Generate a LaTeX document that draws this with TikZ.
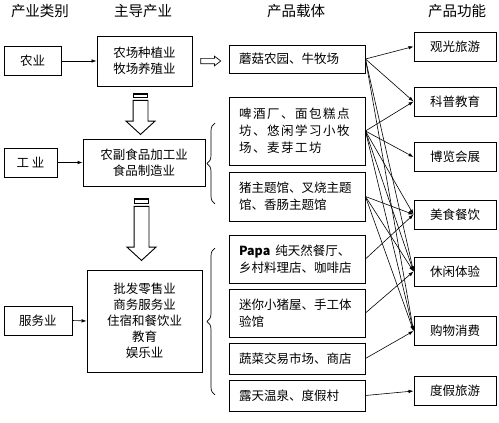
\documentclass[tikz,border=0pt]{standalone}
\usepackage{fontspec}
\setmainfont{Noto Sans CJK SC}
\usetikzlibrary{arrows.meta, shapes.arrows, decorations.pathreplacing}

\begin{document}
\begin{tikzpicture}[x=1pt, y=-1pt,
    header/.style={font=\fontsize{14.5}{17}\selectfont},
    catbox/.style={rectangle, draw, line width=0.9pt, minimum height=29pt, inner sep=0pt, font=\fontsize{12.5}{16}\selectfont},
    leadbox/.style={rectangle, draw, line width=0.9pt, inner sep=0pt, align=center, font=\fontsize{12.5}{16}\selectfont},
    carrier/.style={rectangle, draw, line width=0.9pt, minimum width=136pt, text width=116pt, inner xsep=10pt, inner ysep=0pt, align=left, font=\fontsize{12.5}{17}\selectfont},
    func/.style={rectangle, draw, line width=0.9pt, minimum width=82pt, minimum height=29pt, inner sep=0pt, font=\fontsize{12.5}{16}\selectfont},
    arrow/.style={-{Latex[length=5pt, width=3.5pt]}, line width=0.6pt},
    downarrow/.style={single arrow, draw, line width=0.9pt, rotate=-90, inner xsep=0pt, inner ysep=7pt, minimum width=28pt, single arrow head extend=7pt, single arrow tip angle=95},
    hollowarrow/.style={single arrow, draw, line width=0.7pt, inner xsep=0pt, inner ysep=2.3pt, minimum width=9pt, minimum height=20pt, single arrow head extend=2.2pt, single arrow tip angle=75},
    bracket/.style={decorate, decoration={brace, amplitude=8pt}, line width=0.7pt}]

    % Page frame
    \path[use as bounding box, fill=white] (0,0) rectangle (499,423);

    % Column headers
    \node[header] (hcat) at (40,11) {产业类别};
    \node[header] (hlead) at (143,11) {主导产业};
    \node[header] (hcar) at (296,11.5) {产品载体};
    \node[header] (hfun) at (457,11.5) {产品功能};

    % Industry categories
    \node[catbox, minimum width=57pt] (farm) at (32.5,61) {农业};
    \node[catbox, minimum width=53pt] (ind) at (30.5,162.5) {工\ 业};
    \node[catbox, minimum width=68pt] (serv) at (38,320.5) {服务业};

    % Leading industries
    \node[leadbox, minimum width=95pt, minimum height=50pt] (lead1) at (144.5,61) {农场种植业\\牧场养殖业};
    \node[leadbox, minimum width=122pt, minimum height=47pt] (lead2) at (144,162.5) {农副食品加工业\\食品制造业};
    \node[leadbox, minimum width=115pt, minimum height=102pt] (lead3) at (144.5,321) {批发零售业\\商务服务业\\住宿和餐饮业\\教育\\娱乐业};

    \draw[arrow] (farm.east) -- (lead1.west);
    \draw[arrow] (ind.east) -- (lead2.west);
    \draw[arrow] (serv.east) -- (lead3.west);

    % Striped down arrows between the leading industries
    \node[downarrow, minimum height=34pt] (down1) at (140.5,114) {};
    \draw[line width=0.9pt] (133.5,97) rectangle (147.5,93.5);
    \draw[line width=1.6pt] (133.5,93.8) -- (147.5,93.8);
    \node[downarrow, minimum height=54pt] (down2) at (141.5,230) {};
    \draw[line width=0.9pt] (134.5,203) rectangle (148.5,198.5);
    \draw[line width=1.6pt] (134.5,198.8) -- (148.5,198.8);

    % Hollow arrow to the farm carrier
    \node[hollowarrow] (tocar) at (209,61) {};

    % Product carriers
    \node[carrier, minimum height=28pt] (b1) at (297,59) {蘑菇农园、牛牧场};
    \node[carrier, minimum height=68pt] (b2) at (297,131) {\addfontfeature{LetterSpace=12}啤酒厂、面包糕点\\坊、悠闲学习小牧\\场、麦芽工坊};
    \node[carrier, minimum height=49pt] (b3) at (297,196.5) {猪主题馆、叉烧主题\\馆、香肠主题馆};
    \node[carrier, minimum height=48pt] (b4) at (297,259) {\textbf{Papa}\hspace{5pt}纯天然餐厅、\\乡村料理店、咖啡店};
    \node[carrier, minimum height=48pt] (b5) at (297,313) {迷你小猪屋、手工体\\验馆};
    \node[carrier, minimum height=31pt] (b6) at (297,358.5) {蔬菜交易市场、商店};
    \node[carrier, minimum height=31pt] (b7) at (297,395.5) {露天温泉、度假村};

    % Braces grouping the carriers
    \draw[bracket] (215,204) -- (215,123);
    \draw[bracket] (215,395) -- (215,248);

    % Product functions
    \node[func] (f1) at (455,46.5) {观光旅游};
    \node[func] (f2) at (455,101.5) {科普教育};
    \node[func] (f3) at (455,157) {博览会展};
    \node[func] (f4) at (455,214.5) {美食餐饮};
    \node[func] (f5) at (455,271.5) {休闲体验};
    \node[func] (f6) at (455,331) {购物消费};
    \node[func] (f7) at (455,391) {度假旅游};

    % Carriers to functions
    \draw[arrow] (b1.east) -- (f1.west);
    \draw[arrow] (b1.east) -- (f2.west);
    \draw[arrow] (b1.east) -- (f5.west);
    \draw[arrow] (b1.east) -- (f6.west);
    \draw[arrow] (b2.east) -- (f2.west);
    \draw[arrow] (b2.east) -- (f3.west);
    \draw[arrow] (b2.east) -- (f4.west);
    \draw[arrow] (b2.east) -- (f5.west);
    \draw[arrow] (b2.east) -- (f6.west);
    \draw[arrow] (b3.east) -- (f4.west);
    \draw[arrow] (b3.east) -- (f5.west);
    \draw[arrow] (b3.east) -- (f6.west);
    \draw[arrow] (b4.east) -- (f4.west);
    \draw[arrow] (b5.east) -- (f5.west);
    \draw[arrow] (b6.east) -- (f6.west);
    \draw[arrow] (b7.east) -- (f7.west);

\end{tikzpicture}
\end{document}
